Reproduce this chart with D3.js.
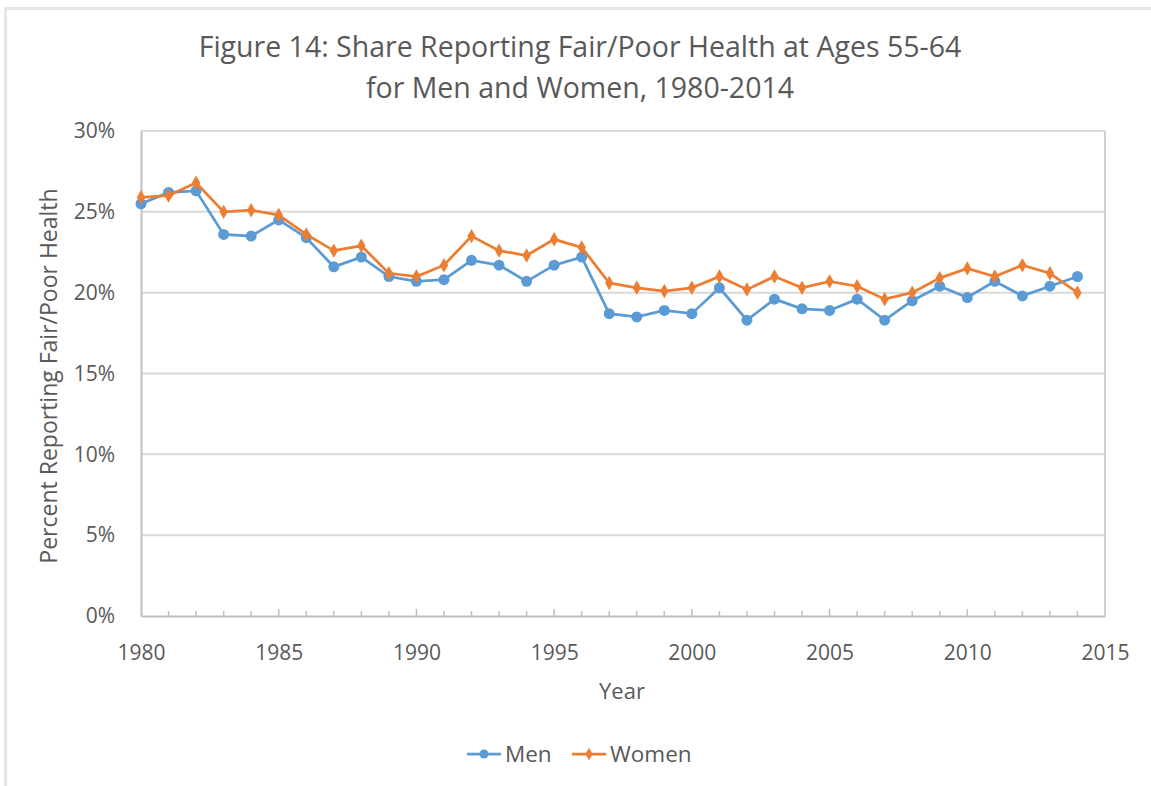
<!DOCTYPE html>
<html>
<head>
<meta charset="utf-8">
<script src="https://cdn.jsdelivr.net/npm/d3@7"></script>
<style>
  body { margin: 0; background: #fff; }
  text { font-family: "Open Sans", sans-serif; fill: #595959; }
</style>
</head>
<body>
<svg id="chart" width="1151" height="786"></svg>
<script>
var years = d3.range(1980, 2015);
var men = [25.5, 26.2, 26.3, 23.6, 23.5, 24.5, 23.4, 21.6, 22.2, 21.0, 20.7, 20.8,
  22.0, 21.7, 20.7, 21.7, 22.2, 18.7, 18.5, 18.9, 18.7, 20.3, 18.3, 19.6, 19.0,
  18.9, 19.6, 18.3, 19.5, 20.4, 19.7, 20.7, 19.8, 20.4, 21.0];
var women = [25.9, 26.0, 26.8, 25.0, 25.1, 24.8, 23.6, 22.6, 22.9, 21.2, 21.0, 21.7,
  23.5, 22.6, 22.3, 23.3, 22.8, 20.6, 20.3, 20.1, 20.3, 21.0, 20.2, 21.0, 20.3,
  20.7, 20.4, 19.6, 20.0, 20.9, 21.5, 21.0, 21.7, 21.2, 20.0];
var yTicks = [0, 5, 10, 15, 20, 25, 30];
var xTicks = [1980, 1985, 1990, 1995, 2000, 2005, 2010, 2015];

var series = [
  {name: "Men", values: men, color: "#5B9BD5", shape: d3.symbolCircle},
  {name: "Women", values: women, color: "#ED7D31", shape: d3.symbolDiamond}
];

var margin = {top: 131, right: 46, bottom: 170, left: 141},
    width = 1151 - margin.left - margin.right,
    height = 786 - margin.top - margin.bottom;

var svg = d3.select("#chart");

// outer frame
svg.append("path")
    .attr("d", "M5.5,786 V8.5 H1151")
    .attr("fill", "none")
    .attr("stroke", "#e6e6e6")
    .attr("stroke-width", 3);

var x = d3.scaleLinear().domain([1980, 2015]).range([0, width]);
var y = d3.scaleLinear().domain([0, 30]).range([height, 0]);

var g = svg.append("g")
    .attr("transform", "translate(" + margin.left + "," + margin.top + ")");

// gridlines
g.append("g")
    .selectAll("line")
    .data(yTicks.filter(function(d) { return d > 0; }))
    .enter().append("line")
    .attr("x1", 0).attr("x2", width)
    .attr("y1", function(d) { return y(d); })
    .attr("y2", function(d) { return y(d); })
    .attr("stroke", "#d9d9d9")
    .attr("stroke-width", 2);

// right frame
g.append("line")
    .attr("x1", width).attr("x2", width)
    .attr("y1", 0).attr("y2", height)
    .attr("stroke", "#d0d0d0").attr("stroke-width", 2);

// y axis
var yAxis = g.append("g")
    .call(d3.axisLeft(y).tickValues(yTicks).tickSize(0).tickPadding(26)
      .tickFormat(function(d) { return d + "%"; }));
yAxis.select(".domain").attr("stroke", "#bfbfbf").attr("stroke-width", 2);
yAxis.selectAll("text").style("font-size", "21px").style("fill", "#595959");

// x axis with minor ticks inside
var xAxis = g.append("g")
    .attr("transform", "translate(0," + height + ")")
    .call(d3.axisBottom(x).tickValues(xTicks).tickSize(0).tickPadding(29)
      .tickFormat(d3.format("d")));
xAxis.select(".domain").attr("stroke", "#bfbfbf").attr("stroke-width", 2);
xAxis.selectAll("text").style("font-size", "21px").style("fill", "#595959");

g.append("g")
    .selectAll("line")
    .data(d3.range(1981, 2015))
    .enter().append("line")
    .attr("x1", function(d) { return x(d); })
    .attr("x2", function(d) { return x(d); })
    .attr("y1", height)
    .attr("y2", function(d) { return d % 5 === 0 ? height - 7 : height - 5; })
    .attr("stroke", "#bfbfbf")
    .attr("stroke-width", 1.5);

// lines and markers
var line = d3.line()
    .x(function(d, i) { return x(years[i]); })
    .y(function(d) { return y(d); });

series.forEach(function(s) {
  g.append("path")
      .datum(s.values)
      .attr("fill", "none")
      .attr("stroke", s.color)
      .attr("stroke-width", 2.75)
      .attr("d", line);

  g.append("g")
      .selectAll("path")
      .data(s.values)
      .enter().append("path")
      .attr("transform", function(d, i) {
        return "translate(" + x(years[i]) + "," + y(d) + ")";
      })
      .attr("d", d3.symbol().type(s.shape).size(s.name === "Men" ? 95 : 60))
      .attr("fill", s.color);
});

// titles
var title = svg.append("text")
    .attr("x", 580).attr("y", 57)
    .attr("text-anchor", "middle")
    .style("font-size", "28.5px");
title.append("tspan").attr("x", 580).text("Figure 14: Share Reporting Fair/Poor Health at Ages 55-64");
title.append("tspan").attr("x", 580).attr("dy", 41).text("for Men and Women, 1980-2014");

svg.append("text")
    .attr("x", 622).attr("y", 699)
    .attr("text-anchor", "middle")
    .style("font-size", "22px")
    .text("Year");

svg.append("text")
    .attr("transform", "translate(57,376) rotate(-90)")
    .attr("text-anchor", "middle")
    .style("font-size", "23px")
    .text("Percent Reporting Fair/Poor Health");

// legend
var legendX = [467, 572];
var legend = svg.append("g");
series.forEach(function(s, i) {
  var lg = legend.append("g").attr("transform", "translate(" + legendX[i] + ",754)");
  lg.append("line").attr("x1", 0).attr("x2", 34)
      .attr("stroke", s.color).attr("stroke-width", 2.75);
  lg.append("path")
      .attr("transform", "translate(17,0)")
      .attr("d", d3.symbol().type(s.shape).size(s.name === "Men" ? 65 : 45))
      .attr("fill", s.color);
  lg.append("text").attr("x", 38).attr("y", 8)
      .style("font-size", "22.5px")
      .text(s.name);
});
</script>
</body>
</html>
